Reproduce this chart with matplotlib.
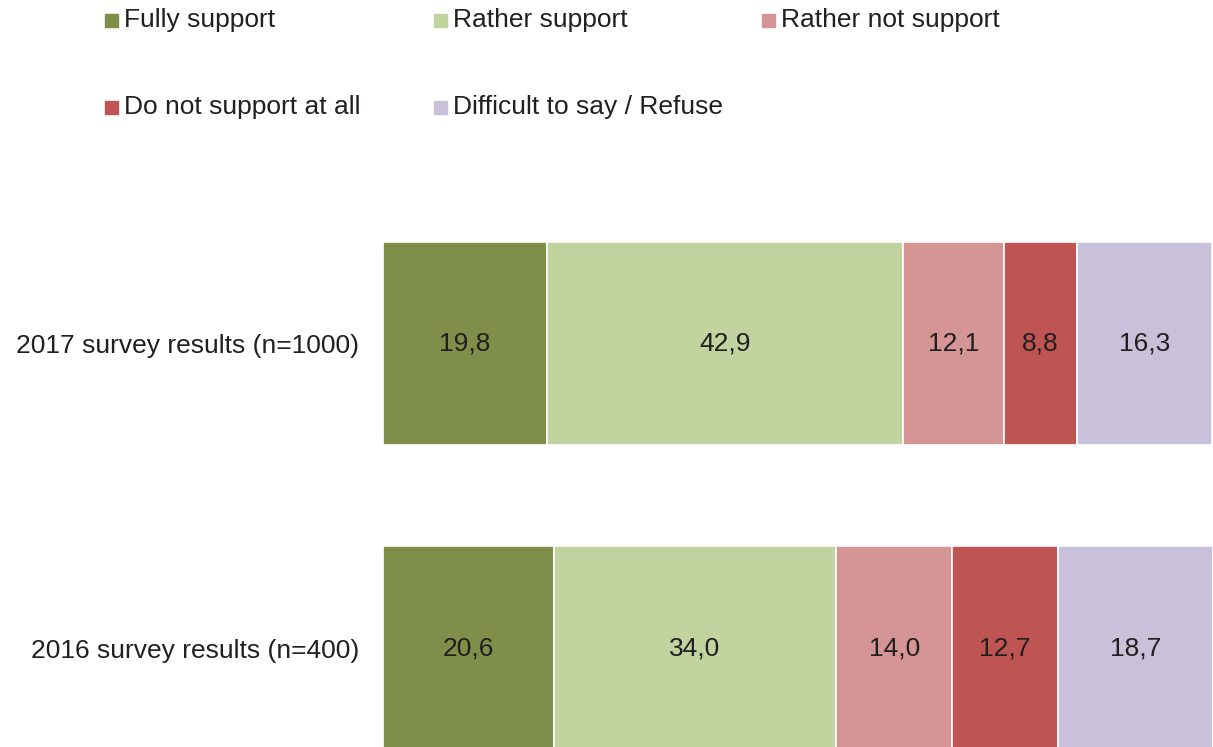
import matplotlib.pyplot as plt
from matplotlib.patches import Rectangle

plt.rcParams['font.family'] = ['Liberation Sans', 'DejaVu Sans']

categories = ['2016 survey results (n=400)', '2017 survey results (n=1000)']
series = ['Fully support', 'Rather support', 'Rather not support',
          'Do not support at all', 'Difficult to say / Refuse']
values = {
    'Fully support': [20.6, 19.8],
    'Rather support': [34.0, 42.9],
    'Rather not support': [14.0, 12.1],
    'Do not support at all': [12.7, 8.8],
    'Difficult to say / Refuse': [18.7, 16.3],
}
colors = ['#7F8E49', '#C1D39E', '#D49594', '#BE5553', '#C9C0DA']

fig = plt.figure(figsize=(12.13, 7.47), dpi=100)
W, H = 1213, 747
ax = fig.add_axes([383 / W, 0, 830 / W, 505 / H])

y = list(range(len(categories)))
left = [0.0] * len(categories)
for name, col in zip(series, colors):
    vals = values[name]
    bars = ax.barh(y, vals, left=left, height=0.668, color=col,
                   edgecolor='white', linewidth=1.2)
    for b, v in zip(bars, vals):
        ax.text(b.get_x() + b.get_width() / 2, b.get_y() + b.get_height() / 2,
                f'{v:.1f}'.replace('.', ','), ha='center', va='center',
                fontsize=19, color='#231F20')
    left = [l + v for l, v in zip(left, vals)]

ax.set_xlim(0, 100)
ax.set_ylim(-0.325, 1.334)
ax.set_yticks(y)
ax.set_yticklabels(categories, fontsize=19, color='#231F20')
ax.tick_params(axis='y', length=0, pad=17)
ax.set_xticks([])
for s in ax.spines.values():
    s.set_visible(False)

# legend, laid out by hand
leg_x = [105, 434, 762]
leg_y = [20, 107]
for i, (name, col) in enumerate(zip(series, colors)):
    r, c = divmod(i, 3)
    x0, y0 = leg_x[c], leg_y[r]
    fig.add_artist(Rectangle((x0 / W, 1 - (y0 + 7) / H), 13 / W, 13 / H,
                             color=col, transform=fig.transFigure))
    fig.text((x0 + 19) / W, 1 - y0 / H, name, fontsize=19,
             va='center', ha='left', color='#231F20')

fig.savefig('out.png', dpi=100)
